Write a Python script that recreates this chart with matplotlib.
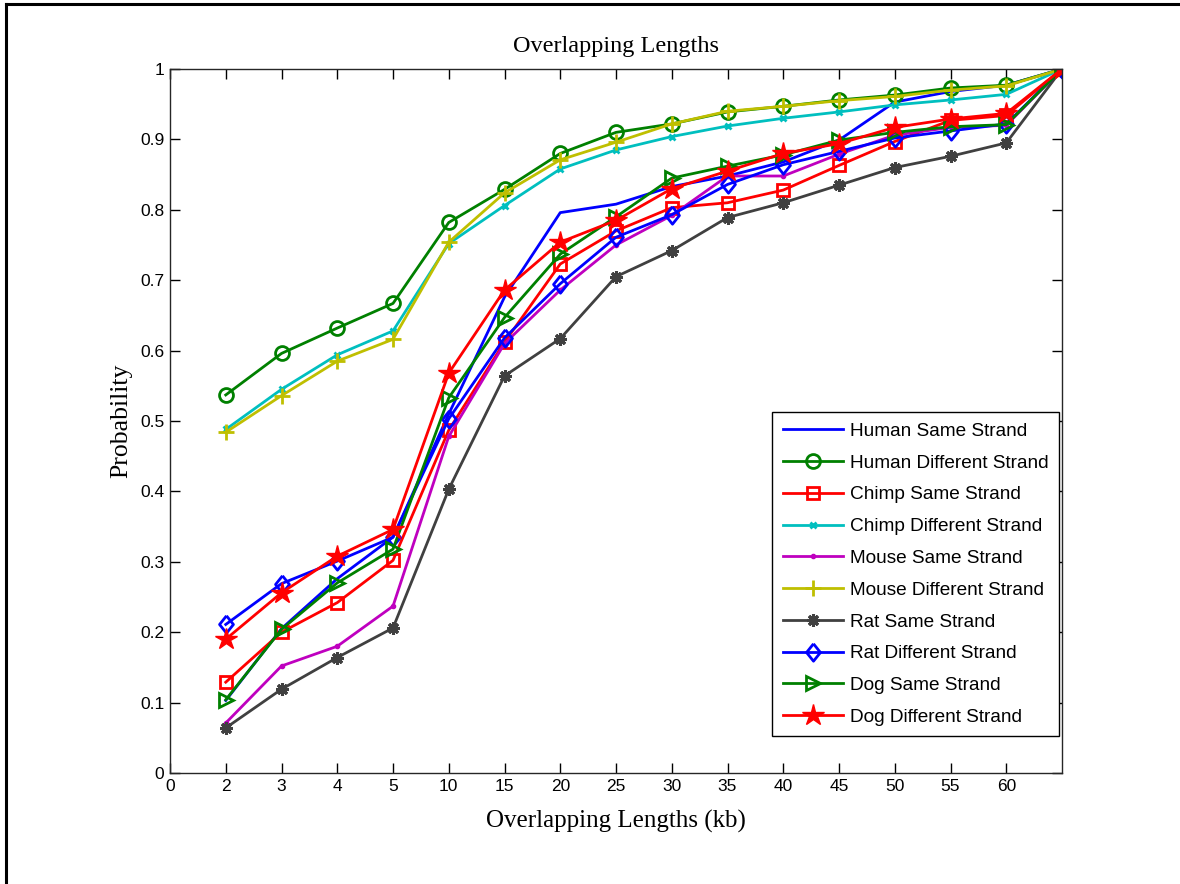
import matplotlib
matplotlib.use("Agg")
import matplotlib.pyplot as plt
from matplotlib.lines import Line2D

# x tick labels (categorical positions); last point (position 16) has no label
x_labels = ["0", "2", "3", "4", "5", "10", "15", "20", "25", "30", "35", "40", "45", "50", "55", "60"]
x_points = list(range(1, 17))

human_same = [0.103, 0.205, 0.276, 0.335, 0.510, 0.676, 0.796, 0.808, 0.833, 0.848, 0.868, 0.899, 0.953, 0.968, 0.977, 1.0]
human_diff = [0.537, 0.596, 0.632, 0.667, 0.782, 0.829, 0.880, 0.910, 0.922, 0.939, 0.947, 0.956, 0.963, 0.973, 0.977, 1.0]
chimp_same = [0.129, 0.200, 0.242, 0.302, 0.487, 0.612, 0.723, 0.770, 0.803, 0.810, 0.828, 0.863, 0.897, 0.927, 0.934, 1.0]
chimp_diff = [0.488, 0.545, 0.594, 0.628, 0.752, 0.806, 0.858, 0.885, 0.904, 0.919, 0.930, 0.939, 0.949, 0.956, 0.964, 1.0]
mouse_same = [0.071, 0.152, 0.180, 0.237, 0.478, 0.610, 0.686, 0.750, 0.792, 0.848, 0.848, 0.879, 0.906, 0.917, 0.920, 1.0]
mouse_diff = [0.484, 0.536, 0.585, 0.616, 0.754, 0.824, 0.871, 0.896, 0.922, 0.940, 0.947, 0.955, 0.961, 0.970, 0.976, 1.0]
rat_same = [0.064, 0.119, 0.164, 0.206, 0.403, 0.564, 0.617, 0.705, 0.742, 0.789, 0.810, 0.835, 0.860, 0.876, 0.895, 1.0]
rat_diff = [0.211, 0.269, 0.301, 0.335, 0.503, 0.618, 0.695, 0.761, 0.793, 0.836, 0.864, 0.883, 0.902, 0.912, 0.922, 1.0]
dog_same = [0.104, 0.204, 0.270, 0.318, 0.533, 0.647, 0.737, 0.790, 0.845, 0.862, 0.878, 0.899, 0.910, 0.918, 0.921, 1.0]
dog_diff = [0.190, 0.256, 0.308, 0.346, 0.568, 0.686, 0.754, 0.785, 0.830, 0.855, 0.880, 0.894, 0.917, 0.929, 0.937, 1.0]

series_names = ["Human Same Strand", "Human Different Strand", "Chimp Same Strand",
                "Chimp Different Strand", "Mouse Same Strand", "Mouse Different Strand",
                "Rat Same Strand", "Rat Different Strand", "Dog Same Strand", "Dog Different Strand"]
series_values = [human_same, human_diff, chimp_same, chimp_diff, mouse_same,
                 mouse_diff, rat_same, rat_diff, dog_same, dog_diff]

diamond = [(0, 1), (0.8, 0), (0, -1), (-0.8, 0), (0, 1)]

styles = [
    dict(color=(0, 0, 1), marker=None),
    dict(color=(0, 0.5, 0), marker="o", markersize=10, markerfacecolor="none", markeredgewidth=2),
    dict(color=(1, 0, 0), marker="s", markersize=9, markerfacecolor="none", markeredgewidth=2),
    dict(color=(0, 0.75, 0.75), marker="x", markersize=4, markeredgewidth=2),
    dict(color=(0.75, 0, 0.75), marker=".", markersize=6),
    dict(color=(0.75, 0.75, 0), marker="+", markersize=11, markeredgewidth=2),
    dict(color=(0.25, 0.25, 0.25), marker=(8, 2, 0), markersize=9, markeredgewidth=2.2),
    dict(color=(0, 0, 1), marker=diamond, markersize=12.5, markerfacecolor="none", markeredgewidth=2),
    dict(color=(0, 0.5, 0), marker=">", markersize=10, markerfacecolor="none", markeredgewidth=2),
    dict(color=(1, 0, 0), marker="*", markersize=16, markeredgewidth=1),
]

fig = plt.figure(figsize=(11.8, 8.84), dpi=100)
ax = fig.add_axes([170 / 1180, 1 - 773 / 884, 892 / 1180, 704 / 884])

for name, vals, st in zip(series_names, series_values, styles):
    ax.plot(x_points, vals, label=name, linewidth=2.0, **st)

ax.set_xlim(0, 16)
ax.set_ylim(0, 1)
ax.set_xticks(range(len(x_labels)))
ax.set_xticklabels(x_labels, fontfamily="Liberation Sans", fontsize=12.5)
yt = [i / 10 for i in range(11)]
ax.set_yticks(yt)
ax.set_yticklabels(["0"] + ["%.1f" % v for v in yt[1:-1]] + ["1"],
                   fontfamily="Liberation Sans", fontsize=12.5)
ax.tick_params(direction="in", length=7, width=1, top=True, right=True, pad=4)
for sp in ax.spines.values():
    sp.set_linewidth(1.0)
    sp.set_color((0.15, 0.15, 0.15))

ax.set_title("Overlapping Lengths", fontfamily="Liberation Serif", fontsize=17.5, pad=12)
ax.set_xlabel("Overlapping Lengths (kb)", fontfamily="Liberation Serif", fontsize=18, labelpad=12)
ax.set_ylabel("Probability", fontfamily="Liberation Serif", fontsize=18.5, labelpad=6)

leg = ax.legend(loc="lower right", bbox_to_anchor=(0.997, 0.052), borderaxespad=0,
                prop={"family": "Liberation Sans", "size": 13.7}, fancybox=False,
                edgecolor="black", framealpha=1, handlelength=3.15, labelspacing=0.76,
                borderpad=0.55, handletextpad=0.4)
leg.get_frame().set_linewidth(1.0)

# figure border (left and top edges visible in the crop)
fig.add_artist(Line2D([6 / 1180, 6 / 1180], [0, 1 - 4 / 884], transform=fig.transFigure,
                      color="black", linewidth=2.2))
fig.add_artist(Line2D([6 / 1180, 1], [1 - 4 / 884, 1 - 4 / 884], transform=fig.transFigure,
                      color="black", linewidth=2.2))

fig.savefig("out.png", dpi=100)
